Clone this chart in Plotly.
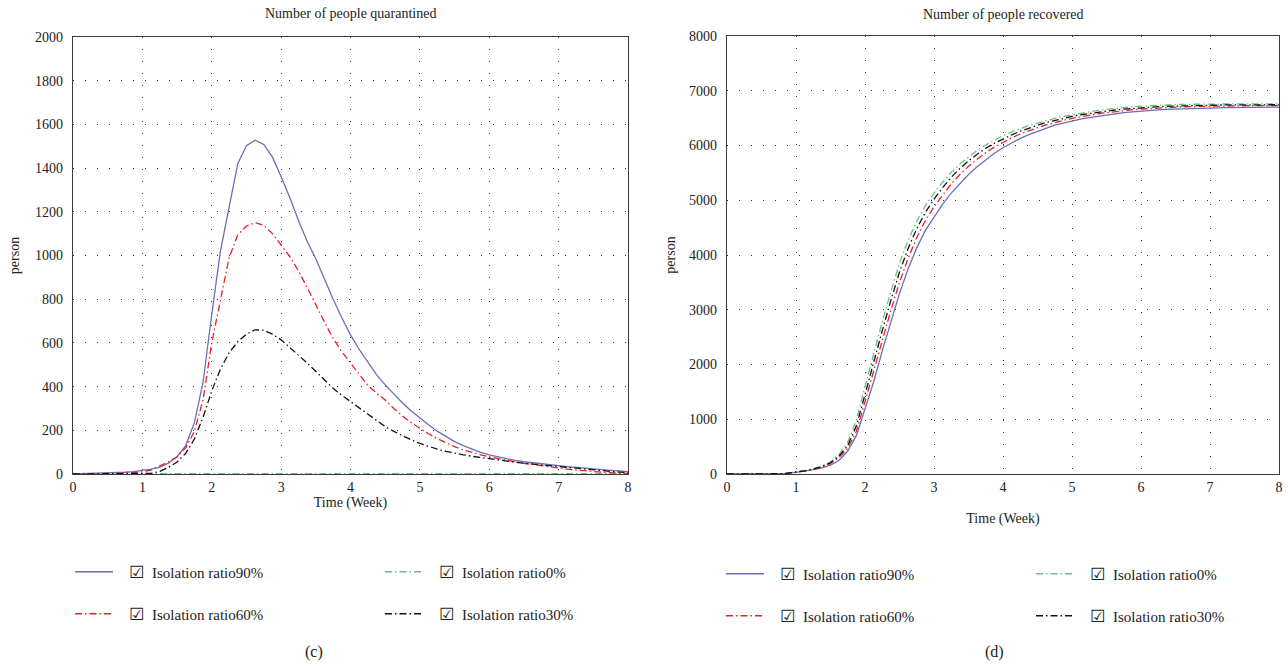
import plotly.graph_objects as go

# ---------------- data ----------------
weeks = [i * 0.125 for i in range(65)]

# (c) Number of people quarantined
quar_90 = [0, 1, 2, 3, 4, 6, 8, 11, 15, 22, 32, 50, 79, 130, 235, 420, 730, 1020, 1220, 1420,
           1503, 1528, 1508, 1450, 1360, 1265, 1160, 1065, 985, 890, 800, 715, 637, 570, 510,
           455, 408, 365, 325, 288, 255, 225, 196, 170, 148, 130, 114, 99, 87, 78, 70, 62, 56,
           51, 46, 42, 38, 34, 30, 26, 23, 20, 17, 14, 11]
quar_60 = [0, 0, 1, 1, 2, 3, 5, 7, 10, 18, 35, 55, 79, 120, 195, 340, 600, 800, 990, 1095,
           1135, 1150, 1138, 1100, 1050, 995, 930, 855, 775, 695, 620, 560, 507, 455, 405,
           370, 339, 300, 265, 235, 209, 184, 162, 142, 125, 110, 98, 88, 79, 70, 62, 55, 49,
           43, 37, 31, 26, 22, 18, 14, 11, 8, 6, 4, 3]
quar_30 = [0, 0, 0, 0, 0, 0, 0, 1, 1, 3, 12, 30, 55, 95, 160, 260, 380, 480, 555, 605,
           640, 660, 658, 640, 614, 580, 545, 508, 470, 430, 392, 360, 331, 300, 272, 243,
           217, 195, 174, 156, 140, 126, 114, 104, 95, 88, 81, 75, 69, 64, 59, 54, 49, 45,
           41, 37, 34, 30, 26, 22, 18, 15, 12, 9, 6]
quar_0 = [2] * 65

# (d) Number of people recovered
rec_90 = [0, 0, 0, 0, 0, 1, 5, 13, 30, 50, 78, 112, 160, 250, 420, 700, 1180, 1680, 2250,
          2800, 3300, 3750, 4130, 4450, 4700, 4930, 5130, 5310, 5470, 5610, 5740, 5860, 5960,
          6050, 6130, 6200, 6260, 6320, 6370, 6410, 6450, 6480, 6510, 6535, 6560, 6580, 6600,
          6615, 6630, 6640, 6650, 6658, 6665, 6670, 6675, 6680, 6684, 6688, 6691, 6694, 6696,
          6698, 6700, 6701, 6702]
rec_60 = [0, 0, 0, 0, 0, 2, 5, 14, 32, 55, 85, 125, 190, 300, 470, 780, 1320, 1880, 2440,
          2990, 3500, 3940, 4320, 4630, 4880, 5100, 5300, 5470, 5620, 5750, 5870, 5970, 6060,
          6140, 6210, 6270, 6325, 6375, 6420, 6460, 6495, 6525, 6555, 6580, 6600, 6620, 6637,
          6652, 6665, 6676, 6686, 6694, 6701, 6707, 6712, 6716, 6719, 6722, 6724, 6726, 6727,
          6728, 6729, 6730, 6730]
rec_30 = [0, 0, 0, 0, 0, 2, 5, 14, 33, 57, 90, 135, 205, 330, 520, 880, 1450, 2050, 2620,
          3170, 3690, 4120, 4480, 4780, 5020, 5230, 5420, 5580, 5720, 5840, 5950, 6040, 6120,
          6195, 6260, 6320, 6370, 6420, 6460, 6495, 6530, 6560, 6585, 6610, 6630, 6648, 6664,
          6678, 6690, 6700, 6709, 6716, 6722, 6727, 6731, 6734, 6737, 6739, 6741, 6742, 6743,
          6744, 6745, 6745, 6745]
rec_0 = [0, 0, 0, 0, 0, 2, 5, 15, 35, 60, 95, 145, 220, 360, 580, 980, 1600, 2200, 2780,
         3330, 3850, 4270, 4620, 4900, 5130, 5330, 5510, 5660, 5790, 5910, 6010, 6100, 6180,
         6250, 6310, 6365, 6410, 6455, 6495, 6530, 6560, 6590, 6615, 6640, 6660, 6678, 6693,
         6707, 6718, 6728, 6736, 6743, 6748, 6752, 6755, 6757, 6758, 6759, 6759, 6760, 6760,
         6760, 6760, 6760, 6760]

series_names = ["Isolation ratio90%", "Isolation ratio0%", "Isolation ratio60%", "Isolation ratio30%"]
titles = ["Number of people quarantined", "Number of people recovered"]
panel_labels = ["(c)", "(d)"]
x_ticks = [0, 1, 2, 3, 4, 5, 6, 7, 8]

# ---------------- styling ----------------
W, H = 1288, 667
FONT = "Liberation Serif"
styles = {
    "Isolation ratio90%": dict(color="#6d6db8", width=1.3, dash="solid"),
    "Isolation ratio0%": dict(color="#6cc07e", width=1.3, dash="7px,3px,1.5px,3px"),
    "Isolation ratio60%": dict(color="#e8202a", width=1.3, dash="7px,3px,1.5px,3px"),
    "Isolation ratio30%": dict(color="#111111", width=1.3, dash="7px,3px,1.5px,3px"),
}
CHECK = "\u2611"

def px_x(p):
    return p / W

def px_y(p):
    return 1 - p / H

fig = go.Figure()

left = {"Isolation ratio90%": quar_90, "Isolation ratio0%": quar_0,
        "Isolation ratio60%": quar_60, "Isolation ratio30%": quar_30}
right = {"Isolation ratio90%": rec_90, "Isolation ratio0%": rec_0,
         "Isolation ratio60%": rec_60, "Isolation ratio30%": rec_30}

legend_for = {
    ("L", "Isolation ratio90%"): "legend", ("L", "Isolation ratio0%"): "legend",
    ("L", "Isolation ratio60%"): "legend2", ("L", "Isolation ratio30%"): "legend2",
    ("R", "Isolation ratio90%"): "legend3", ("R", "Isolation ratio0%"): "legend3",
    ("R", "Isolation ratio60%"): "legend4", ("R", "Isolation ratio30%"): "legend4",
}

def label(name):
    return ("\u00a0\u00a0\u00a0<span style='font-family:DejaVu Sans;font-size:17px'>" + CHECK +
            "</span>\u00a0\u00a0" + name)

for side, data, xa, ya in (("L", left, "x", "y"), ("R", right, "x2", "y2")):
    for name in series_names:
        fig.add_trace(go.Scatter(
            x=weeks, y=data[name], mode="lines", name=label(name),
            line=styles[name], xaxis=xa, yaxis=ya,
            legend=legend_for[(side, name)], showlegend=True,
        ))

grid_kw = dict(showgrid=True, gridcolor="#333333", gridwidth=1, griddash="1px,11px",
               showline=True, mirror=True, linecolor="#3a3a3a", linewidth=1.3,
               zeroline=False, ticks="", tickfont=dict(family=FONT, size=14, color="#222"),
               layer="above traces", automargin=False)

fig.update_layout(
    width=W, height=H,
    margin=dict(l=0, r=0, t=0, b=0, autoexpand=False),
    paper_bgcolor="white", plot_bgcolor="white",
    font=dict(family=FONT, size=14, color="#222"),
    xaxis=dict(domain=[px_x(73), px_x(628)], range=[0, 8], tickvals=x_ticks,
               title=dict(text="Time (Week)", standoff=1, font=dict(family=FONT, size=14)),
               anchor="y", **grid_kw),
    yaxis=dict(domain=[px_y(474), px_y(37)], range=[0, 2000], dtick=200,
               title=dict(text="person", standoff=12, font=dict(family=FONT, size=14)),
               anchor="x", ticklabelstandoff=6, **grid_kw),
    xaxis2=dict(domain=[px_x(727), px_x(1279)], range=[0, 8], tickvals=x_ticks,
                title=dict(text="Time (Week)", standoff=19, font=dict(family=FONT, size=14)),
                anchor="y2", **grid_kw),
    yaxis2=dict(domain=[px_y(474), px_y(36)], range=[0, 8000], dtick=1000,
                title=dict(text="person", standoff=10, font=dict(family=FONT, size=14)),
                anchor="x2", ticklabelstandoff=6, **grid_kw),
    showlegend=True,
)

leg_common = dict(orientation="h", xanchor="left", yanchor="middle",
                  bgcolor="rgba(0,0,0,0)", borderwidth=0,
                  font=dict(family=FONT, size=15, color="#222"),
                  entrywidthmode="pixels", entrywidth=257, itemwidth=38,
                  itemclick=False, itemdoubleclick=False)
fig.update_layout(
    legend=dict(x=px_x(70), y=px_y(572), **leg_common),
    legend2=dict(x=px_x(70), y=px_y(614), **leg_common),
    legend3=dict(x=px_x(721), y=px_y(574), **leg_common),
    legend4=dict(x=px_x(721), y=px_y(616), **leg_common),
)

ann_common = dict(xref="paper", yref="paper", showarrow=False,
                  xanchor="center", yanchor="middle")
annotations = [
    dict(text=titles[0], x=px_x(350), y=px_y(14),
         font=dict(family=FONT, size=14, color="#222"), **ann_common),
    dict(text=titles[1], x=px_x(1003), y=px_y(15),
         font=dict(family=FONT, size=14, color="#222"), **ann_common),
    dict(text=panel_labels[0], x=px_x(314), y=px_y(652),
         font=dict(family=FONT, size=16, color="#222"), **ann_common),
    dict(text=panel_labels[1], x=px_x(994), y=px_y(652),
         font=dict(family=FONT, size=16, color="#222"), **ann_common),
]
fig.update_layout(annotations=annotations)

fig.write_html("out.html")
